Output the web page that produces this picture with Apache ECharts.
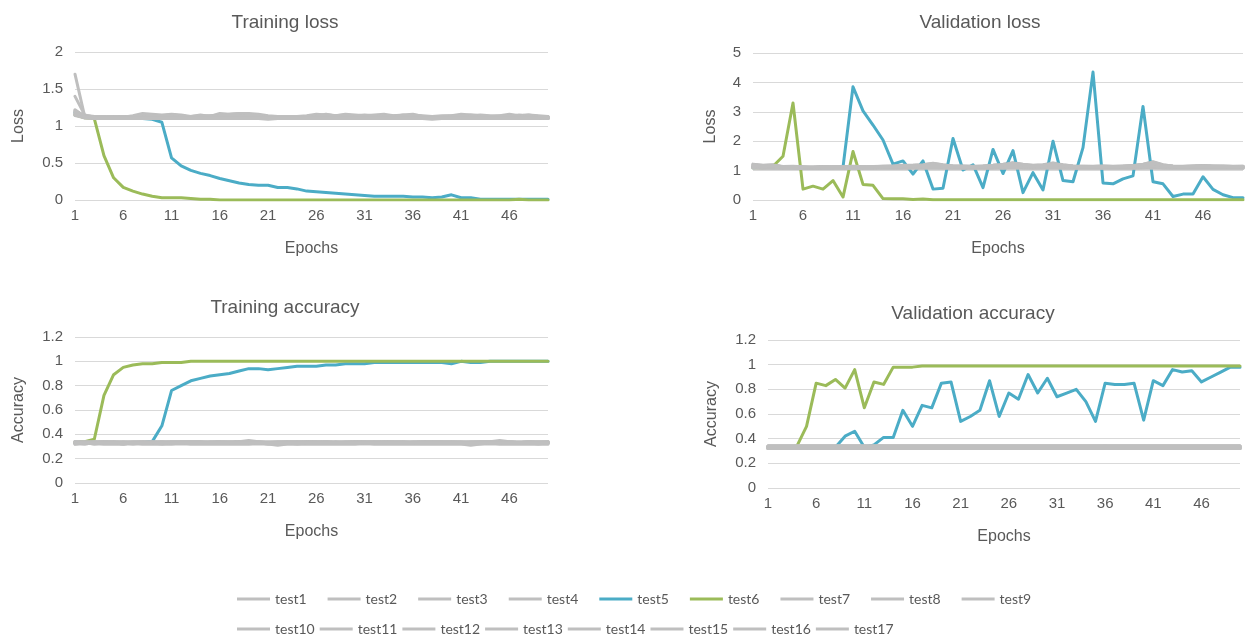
<!DOCTYPE html>
<html>
<head>
<meta charset="utf-8">
<title>Training and validation curves</title>
<script src="https://cdn.jsdelivr.net/npm/echarts@6/dist/echarts.min.js"></script>
<style>
  html, body { margin: 0; padding: 0; background: #ffffff; }
  #chart { width: 1245px; height: 639px; }
</style>
</head>
<body>
<div id="chart"></div>
<script>
// Epoch labels (50 epochs)
const epochs = ['1','2','3','4','5','6','7','8','9','10','11','12','13','14','15','16','17','18','19','20',
  '21','22','23','24','25','26','27','28','29','30','31','32','33','34','35','36','37','38','39','40',
  '41','42','43','44','45','46','47','48','49','50'];

const grayNames = ['test1','test2','test3','test4','test7','test8','test9','test10','test11','test12',
  'test13','test14','test15','test16','test17'];
const legendRow1 = ['test1','test2','test3','test4','test5','test6','test7','test8','test9'];
const legendRow2 = ['test10','test11','test12','test13','test14','test15','test16','test17'];

// ---- Training loss ----
const trainLoss5 = [1.18,1.12,1.11,1.10,1.10,1.10,1.10,1.10,1.09,1.05,0.57,0.46,0.40,0.36,0.33,0.29,0.26,0.23,0.21,0.20,
  0.20,0.17,0.17,0.15,0.12,0.11,0.10,0.09,0.08,0.07,0.06,0.05,0.05,0.05,0.05,0.04,0.04,0.03,0.04,0.07,
  0.03,0.03,0.01,0.01,0.01,0.01,0.01,0.01,0.01,0.01];
const trainLoss6 = [1.15,1.11,1.10,0.60,0.30,0.17,0.12,0.08,0.05,0.03,0.03,0.03,0.02,0.01,0.01,0.00,0.00,0.00,0.00,0.00,
  0.00,0.00,0.00,0.00,0.00,0.00,0.00,0.00,0.00,0.00,0.00,0.00,0.00,0.00,0.00,0.00,0.00,0.00,0.00,0.00,
  0.00,0.00,0.00,0.00,0.00,0.00,0.01,0.00,0.00,0.00];
const trainLossGray = [
  [1.70,1.13,1.11,1.10,1.10,1.10,1.10,1.11,1.10,1.10,1.10,1.10,1.10,1.11,1.10,1.10,1.10,1.10,1.10,1.10,1.10,1.10,1.10,1.10,1.10,1.11,1.10,1.10,1.10,1.10,1.10,1.10,1.10,1.10,1.10,1.10,1.10,1.10,1.10,1.10,1.10,1.10,1.10,1.10,1.10,1.10,1.10,1.10,1.10,1.10],
  [1.40,1.15,1.12,1.11,1.11,1.12,1.12,1.13,1.12,1.12,1.12,1.11,1.12,1.12,1.11,1.12,1.12,1.12,1.11,1.12,1.11,1.11,1.12,1.12,1.11,1.12,1.12,1.11,1.12,1.11,1.12,1.11,1.12,1.12,1.11,1.12,1.11,1.11,1.12,1.11,1.12,1.11,1.12,1.11,1.11,1.12,1.11,1.12,1.11,1.11],
  [1.20,1.14,1.13,1.12,1.12,1.12,1.14,1.17,1.16,1.15,1.16,1.15,1.13,1.15,1.13,1.17,1.16,1.17,1.17,1.16,1.14,1.13,1.13,1.13,1.14,1.16,1.15,1.14,1.16,1.15,1.14,1.15,1.16,1.14,1.15,1.16,1.13,1.13,1.14,1.14,1.16,1.15,1.14,1.13,1.14,1.16,1.14,1.15,1.14,1.13],
  [1.18,1.12,1.11,1.11,1.11,1.11,1.11,1.11,1.11,1.12,1.12,1.12,1.11,1.11,1.12,1.11,1.11,1.11,1.11,1.11,1.11,1.12,1.11,1.11,1.11,1.11,1.11,1.12,1.11,1.11,1.11,1.11,1.11,1.12,1.11,1.11,1.11,1.11,1.11,1.11,1.12,1.11,1.11,1.11,1.11,1.11,1.11,1.12,1.11,1.11],
  [1.16,1.11,1.10,1.10,1.10,1.10,1.10,1.10,1.10,1.10,1.10,1.10,1.10,1.10,1.10,1.10,1.10,1.10,1.10,1.10,1.10,1.10,1.10,1.10,1.10,1.10,1.10,1.10,1.10,1.10,1.10,1.10,1.10,1.10,1.10,1.10,1.10,1.10,1.10,1.10,1.10,1.10,1.10,1.10,1.10,1.10,1.10,1.10,1.10,1.10],
  [1.15,1.12,1.12,1.12,1.13,1.13,1.13,1.14,1.13,1.13,1.14,1.14,1.12,1.13,1.14,1.15,1.15,1.14,1.14,1.15,1.13,1.12,1.12,1.12,1.13,1.14,1.14,1.13,1.14,1.13,1.13,1.13,1.14,1.13,1.13,1.14,1.13,1.13,1.13,1.14,1.14,1.15,1.14,1.13,1.13,1.14,1.13,1.13,1.13,1.12],
  [1.21,1.13,1.11,1.11,1.12,1.11,1.12,1.12,1.12,1.11,1.11,1.12,1.11,1.12,1.11,1.12,1.12,1.11,1.12,1.12,1.11,1.12,1.11,1.12,1.11,1.12,1.12,1.11,1.11,1.12,1.11,1.12,1.11,1.12,1.11,1.12,1.11,1.12,1.12,1.11,1.12,1.11,1.12,1.11,1.12,1.12,1.11,1.12,1.11,1.11],
  [1.17,1.12,1.11,1.10,1.10,1.11,1.10,1.10,1.10,1.10,1.10,1.11,1.10,1.10,1.10,1.10,1.11,1.10,1.10,1.10,1.10,1.10,1.10,1.10,1.10,1.10,1.10,1.11,1.10,1.10,1.10,1.10,1.10,1.10,1.10,1.10,1.11,1.10,1.10,1.10,1.10,1.10,1.10,1.10,1.11,1.10,1.10,1.10,1.10,1.10],
  [1.19,1.14,1.13,1.13,1.12,1.13,1.13,1.14,1.13,1.13,1.13,1.12,1.13,1.14,1.13,1.13,1.14,1.15,1.14,1.13,1.13,1.13,1.12,1.13,1.13,1.13,1.15,1.14,1.13,1.13,1.14,1.13,1.13,1.13,1.15,1.14,1.13,1.13,1.13,1.13,1.13,1.14,1.13,1.13,1.14,1.13,1.15,1.14,1.13,1.13],
  [1.14,1.11,1.11,1.11,1.10,1.11,1.11,1.11,1.10,1.11,1.11,1.11,1.11,1.10,1.11,1.11,1.11,1.11,1.11,1.10,1.11,1.11,1.11,1.11,1.10,1.11,1.11,1.11,1.11,1.11,1.10,1.11,1.11,1.11,1.11,1.10,1.11,1.11,1.11,1.11,1.11,1.10,1.11,1.11,1.11,1.11,1.10,1.11,1.11,1.11],
  [1.22,1.13,1.12,1.12,1.12,1.12,1.12,1.13,1.12,1.12,1.12,1.12,1.12,1.12,1.12,1.13,1.12,1.12,1.12,1.12,1.12,1.12,1.12,1.12,1.12,1.12,1.12,1.12,1.13,1.12,1.12,1.12,1.12,1.12,1.12,1.12,1.12,1.12,1.12,1.12,1.12,1.12,1.12,1.13,1.12,1.12,1.12,1.12,1.12,1.12],
  [1.16,1.12,1.12,1.12,1.13,1.12,1.13,1.15,1.14,1.14,1.15,1.14,1.12,1.13,1.14,1.14,1.16,1.17,1.16,1.14,1.13,1.12,1.13,1.13,1.13,1.14,1.16,1.14,1.15,1.14,1.15,1.14,1.13,1.14,1.14,1.15,1.14,1.13,1.13,1.13,1.14,1.14,1.15,1.14,1.13,1.13,1.14,1.15,1.13,1.12],
  [1.18,1.11,1.10,1.10,1.10,1.10,1.10,1.10,1.10,1.10,1.10,1.10,1.10,1.10,1.10,1.10,1.10,1.10,1.10,1.10,1.09,1.10,1.10,1.10,1.10,1.10,1.10,1.10,1.10,1.10,1.10,1.10,1.10,1.10,1.10,1.10,1.10,1.09,1.10,1.10,1.10,1.10,1.10,1.10,1.10,1.10,1.10,1.10,1.10,1.10],
  [1.15,1.13,1.12,1.12,1.12,1.13,1.12,1.12,1.13,1.14,1.13,1.12,1.12,1.12,1.12,1.13,1.13,1.13,1.14,1.13,1.12,1.12,1.12,1.12,1.13,1.12,1.12,1.12,1.13,1.12,1.12,1.12,1.13,1.13,1.12,1.12,1.12,1.12,1.13,1.12,1.12,1.13,1.12,1.12,1.12,1.12,1.12,1.13,1.12,1.12],
  [1.20,1.12,1.11,1.11,1.11,1.11,1.11,1.11,1.11,1.11,1.11,1.11,1.11,1.11,1.11,1.11,1.11,1.11,1.11,1.11,1.11,1.11,1.11,1.11,1.11,1.11,1.11,1.11,1.11,1.11,1.11,1.11,1.11,1.11,1.11,1.11,1.11,1.11,1.11,1.11,1.11,1.11,1.11,1.11,1.11,1.11,1.11,1.11,1.11,1.10]
];

// ---- Validation loss ----
const valLoss5 = [1.10,1.12,1.10,1.11,1.10,1.10,1.09,1.10,1.10,1.12,3.85,3.03,2.55,2.04,1.22,1.33,0.88,1.33,0.37,0.40,
  2.09,1.02,1.20,0.42,1.72,0.90,1.68,0.25,0.93,0.34,2.00,0.66,0.62,1.78,4.35,0.58,0.55,0.72,0.82,3.18,
  0.62,0.55,0.12,0.20,0.20,0.79,0.36,0.18,0.08,0.08];
const valLoss6 = [1.10,1.10,1.15,1.49,3.30,0.37,0.47,0.37,0.66,0.10,1.65,0.53,0.50,0.05,0.04,0.04,0.02,0.03,0.01,0.01,
  0.01,0.01,0.01,0.01,0.01,0.01,0.01,0.01,0.01,0.01,0.01,0.01,0.01,0.01,0.01,0.01,0.01,0.01,0.01,0.01,
  0.01,0.01,0.01,0.01,0.01,0.01,0.01,0.01,0.01,0.01];
const valLossGray = [
  [1.22,1.18,1.20,1.12,1.14,1.12,1.10,1.13,1.12,1.12,1.14,1.12,1.13,1.15,1.16,1.17,1.18,1.20,1.25,1.20,1.16,1.15,1.14,1.16,1.18,1.22,1.27,1.22,1.18,1.20,1.26,1.20,1.16,1.15,1.14,1.15,1.14,1.15,1.18,1.22,1.30,1.20,1.15,1.14,1.16,1.17,1.16,1.15,1.14,1.15],
  [1.15,1.12,1.13,1.11,1.12,1.11,1.10,1.11,1.11,1.11,1.12,1.11,1.11,1.12,1.13,1.14,1.14,1.15,1.18,1.15,1.13,1.13,1.12,1.13,1.14,1.15,1.18,1.16,1.14,1.15,1.18,1.15,1.13,1.12,1.12,1.13,1.12,1.13,1.14,1.16,1.22,1.16,1.13,1.12,1.13,1.14,1.13,1.13,1.12,1.13],
  [1.10,1.09,1.09,1.08,1.09,1.08,1.08,1.09,1.08,1.09,1.09,1.08,1.09,1.09,1.09,1.09,1.10,1.09,1.10,1.09,1.09,1.09,1.09,1.09,1.09,1.10,1.10,1.09,1.09,1.09,1.10,1.09,1.09,1.09,1.09,1.09,1.09,1.09,1.09,1.10,1.10,1.09,1.09,1.09,1.09,1.09,1.09,1.09,1.09,1.09],
  [1.18,1.14,1.15,1.12,1.13,1.12,1.11,1.12,1.12,1.12,1.13,1.12,1.12,1.13,1.14,1.15,1.15,1.17,1.20,1.17,1.14,1.14,1.13,1.14,1.15,1.17,1.20,1.18,1.15,1.16,1.20,1.16,1.14,1.13,1.13,1.14,1.13,1.14,1.15,1.18,1.24,1.17,1.14,1.13,1.14,1.15,1.14,1.14,1.13,1.14],
  [1.12,1.10,1.11,1.10,1.10,1.10,1.09,1.10,1.10,1.10,1.10,1.10,1.10,1.11,1.11,1.11,1.11,1.12,1.13,1.12,1.11,1.11,1.11,1.11,1.11,1.12,1.13,1.12,1.11,1.12,1.13,1.12,1.11,1.11,1.11,1.11,1.11,1.11,1.11,1.12,1.15,1.12,1.11,1.11,1.11,1.11,1.11,1.11,1.11,1.11],
  [1.20,1.16,1.17,1.13,1.14,1.12,1.11,1.13,1.12,1.13,1.14,1.12,1.13,1.14,1.15,1.16,1.17,1.18,1.22,1.18,1.15,1.15,1.14,1.15,1.17,1.19,1.23,1.20,1.16,1.18,1.23,1.18,1.15,1.14,1.14,1.15,1.14,1.15,1.16,1.20,1.27,1.18,1.15,1.14,1.15,1.16,1.15,1.15,1.14,1.14],
  [1.09,1.08,1.08,1.08,1.08,1.08,1.08,1.08,1.08,1.08,1.08,1.08,1.08,1.08,1.08,1.08,1.08,1.08,1.09,1.08,1.08,1.08,1.08,1.08,1.08,1.08,1.09,1.08,1.08,1.08,1.09,1.08,1.08,1.08,1.08,1.08,1.08,1.08,1.08,1.08,1.09,1.08,1.08,1.08,1.08,1.08,1.08,1.08,1.08,1.08],
  [1.16,1.13,1.14,1.11,1.12,1.11,1.10,1.11,1.11,1.11,1.12,1.11,1.12,1.12,1.13,1.14,1.14,1.16,1.19,1.16,1.13,1.13,1.12,1.13,1.14,1.16,1.19,1.17,1.14,1.15,1.19,1.15,1.13,1.12,1.12,1.13,1.12,1.13,1.14,1.17,1.23,1.16,1.13,1.12,1.13,1.14,1.13,1.13,1.12,1.13],
  [1.11,1.10,1.10,1.09,1.10,1.09,1.09,1.10,1.09,1.10,1.10,1.09,1.10,1.10,1.10,1.10,1.11,1.11,1.12,1.11,1.10,1.10,1.10,1.10,1.10,1.11,1.12,1.11,1.10,1.11,1.12,1.11,1.10,1.10,1.10,1.10,1.10,1.10,1.10,1.11,1.13,1.11,1.10,1.10,1.10,1.10,1.10,1.10,1.10,1.10],
  [1.14,1.12,1.12,1.10,1.11,1.10,1.10,1.11,1.10,1.11,1.11,1.10,1.11,1.11,1.12,1.12,1.12,1.13,1.16,1.13,1.12,1.12,1.11,1.12,1.12,1.14,1.16,1.14,1.12,1.13,1.16,1.13,1.12,1.11,1.11,1.12,1.11,1.12,1.12,1.14,1.19,1.14,1.12,1.11,1.12,1.12,1.12,1.12,1.11,1.12],
  [1.10,1.09,1.09,1.09,1.09,1.09,1.08,1.09,1.09,1.09,1.09,1.09,1.09,1.09,1.09,1.10,1.10,1.10,1.11,1.10,1.09,1.09,1.09,1.09,1.10,1.10,1.11,1.10,1.09,1.10,1.11,1.10,1.09,1.09,1.09,1.09,1.09,1.09,1.09,1.10,1.12,1.10,1.09,1.09,1.09,1.10,1.09,1.09,1.09,1.09],
  [1.13,1.11,1.11,1.10,1.10,1.10,1.09,1.10,1.10,1.10,1.11,1.10,1.10,1.11,1.11,1.12,1.12,1.13,1.15,1.13,1.11,1.11,1.11,1.11,1.12,1.13,1.15,1.13,1.12,1.12,1.15,1.12,1.11,1.11,1.11,1.11,1.11,1.11,1.12,1.13,1.17,1.13,1.11,1.11,1.11,1.12,1.11,1.11,1.11,1.11],
  [1.21,1.17,1.19,1.14,1.15,1.13,1.12,1.14,1.13,1.13,1.15,1.13,1.14,1.15,1.16,1.18,1.18,1.20,1.24,1.19,1.16,1.16,1.15,1.16,1.18,1.21,1.26,1.21,1.17,1.19,1.25,1.19,1.16,1.15,1.15,1.16,1.15,1.16,1.17,1.21,1.29,1.19,1.16,1.15,1.16,1.17,1.16,1.16,1.15,1.15],
  [1.12,1.11,1.11,1.10,1.10,1.10,1.09,1.10,1.10,1.10,1.10,1.10,1.10,1.11,1.11,1.11,1.11,1.12,1.14,1.12,1.11,1.11,1.11,1.11,1.11,1.12,1.14,1.12,1.11,1.12,1.14,1.12,1.11,1.11,1.11,1.11,1.11,1.11,1.11,1.12,1.16,1.12,1.11,1.11,1.11,1.11,1.11,1.11,1.11,1.11],
  [1.17,1.14,1.16,1.12,1.13,1.11,1.11,1.12,1.12,1.12,1.13,1.12,1.12,1.13,1.14,1.15,1.15,1.17,1.21,1.17,1.14,1.14,1.13,1.14,1.15,1.18,1.21,1.18,1.15,1.16,1.21,1.16,1.14,1.13,1.13,1.14,1.13,1.14,1.15,1.18,1.25,1.17,1.14,1.13,1.14,1.15,1.14,1.14,1.13,1.14]
];

// ---- Training accuracy ----
const trainAcc5 = [0.33,0.33,0.33,0.33,0.33,0.33,0.33,0.33,0.34,0.47,0.76,0.80,0.84,0.86,0.88,0.89,0.90,0.92,0.94,0.94,
  0.93,0.94,0.95,0.96,0.96,0.96,0.97,0.97,0.98,0.98,0.98,0.99,0.99,0.99,0.99,0.99,0.99,0.99,0.99,0.98,
  1.00,0.99,0.99,1.00,1.00,1.00,1.00,1.00,1.00,1.00];
const trainAcc6 = [0.33,0.34,0.36,0.72,0.89,0.95,0.97,0.98,0.98,0.99,0.99,0.99,1.00,1.00,1.00,1.00,1.00,1.00,1.00,1.00,
  1.00,1.00,1.00,1.00,1.00,1.00,1.00,1.00,1.00,1.00,1.00,1.00,1.00,1.00,1.00,1.00,1.00,1.00,1.00,1.00,
  1.00,1.00,1.00,1.00,1.00,1.00,1.00,1.00,1.00,1.00];
const trainAccGray = [
  [0.33,0.33,0.33,0.33,0.33,0.33,0.33,0.33,0.33,0.33,0.33,0.33,0.33,0.33,0.33,0.33,0.33,0.33,0.33,0.33,0.33,0.33,0.33,0.33,0.33,0.33,0.33,0.33,0.33,0.33,0.33,0.33,0.33,0.33,0.33,0.33,0.33,0.33,0.33,0.33,0.33,0.33,0.33,0.33,0.33,0.33,0.33,0.33,0.33,0.33],
  [0.34,0.34,0.33,0.34,0.34,0.33,0.34,0.34,0.34,0.33,0.34,0.34,0.34,0.34,0.33,0.34,0.34,0.34,0.34,0.34,0.33,0.34,0.34,0.34,0.34,0.34,0.34,0.33,0.34,0.34,0.34,0.34,0.34,0.34,0.34,0.33,0.34,0.34,0.34,0.34,0.33,0.34,0.34,0.34,0.34,0.34,0.33,0.34,0.34,0.34],
  [0.32,0.33,0.32,0.32,0.32,0.32,0.32,0.32,0.32,0.32,0.32,0.32,0.32,0.32,0.32,0.32,0.32,0.32,0.32,0.32,0.32,0.31,0.32,0.32,0.32,0.32,0.32,0.32,0.32,0.32,0.32,0.32,0.32,0.32,0.32,0.32,0.32,0.32,0.32,0.32,0.32,0.31,0.32,0.32,0.32,0.32,0.32,0.32,0.32,0.32],
  [0.34,0.33,0.34,0.34,0.33,0.34,0.33,0.34,0.33,0.34,0.33,0.34,0.34,0.33,0.34,0.34,0.33,0.34,0.35,0.34,0.33,0.33,0.34,0.33,0.34,0.34,0.33,0.34,0.33,0.34,0.34,0.33,0.34,0.34,0.33,0.34,0.34,0.34,0.33,0.34,0.34,0.33,0.34,0.34,0.35,0.34,0.33,0.34,0.33,0.34],
  [0.33,0.33,0.33,0.33,0.33,0.32,0.33,0.33,0.33,0.33,0.33,0.33,0.33,0.33,0.33,0.33,0.33,0.33,0.33,0.33,0.33,0.33,0.33,0.33,0.33,0.33,0.33,0.33,0.33,0.33,0.33,0.33,0.33,0.33,0.33,0.33,0.33,0.33,0.33,0.33,0.33,0.33,0.33,0.33,0.33,0.33,0.33,0.33,0.33,0.33],
  [0.33,0.34,0.33,0.33,0.34,0.33,0.33,0.33,0.34,0.33,0.33,0.33,0.34,0.34,0.33,0.33,0.33,0.34,0.33,0.33,0.33,0.33,0.33,0.34,0.33,0.33,0.34,0.33,0.33,0.33,0.33,0.34,0.33,0.33,0.34,0.33,0.33,0.34,0.34,0.33,0.33,0.33,0.33,0.34,0.33,0.33,0.33,0.34,0.33,0.33],
  [0.32,0.32,0.33,0.32,0.32,0.32,0.33,0.32,0.32,0.32,0.32,0.33,0.32,0.32,0.32,0.32,0.32,0.32,0.32,0.33,0.32,0.32,0.32,0.32,0.32,0.32,0.32,0.32,0.32,0.32,0.33,0.32,0.32,0.32,0.32,0.32,0.32,0.32,0.32,0.32,0.32,0.32,0.32,0.33,0.32,0.32,0.32,0.32,0.32,0.32],
  [0.33,0.33,0.33,0.33,0.33,0.33,0.33,0.33,0.33,0.33,0.33,0.33,0.33,0.33,0.33,0.33,0.33,0.33,0.33,0.33,0.33,0.33,0.33,0.33,0.33,0.33,0.33,0.33,0.33,0.33,0.33,0.33,0.33,0.33,0.33,0.33,0.33,0.33,0.33,0.33,0.33,0.33,0.33,0.33,0.33,0.33,0.33,0.33,0.33,0.33],
  [0.34,0.34,0.34,0.34,0.34,0.34,0.34,0.34,0.34,0.34,0.34,0.34,0.34,0.34,0.34,0.34,0.34,0.34,0.34,0.34,0.34,0.34,0.34,0.34,0.34,0.34,0.34,0.34,0.34,0.34,0.34,0.34,0.34,0.34,0.34,0.34,0.34,0.34,0.34,0.34,0.34,0.34,0.34,0.34,0.34,0.34,0.34,0.34,0.34,0.34],
  [0.33,0.32,0.33,0.33,0.33,0.33,0.32,0.33,0.33,0.33,0.33,0.33,0.33,0.33,0.33,0.33,0.33,0.33,0.33,0.33,0.33,0.33,0.33,0.32,0.33,0.33,0.33,0.33,0.33,0.33,0.33,0.33,0.33,0.33,0.33,0.33,0.33,0.33,0.33,0.33,0.33,0.33,0.33,0.33,0.33,0.33,0.33,0.33,0.32,0.33],
  [0.33,0.33,0.34,0.33,0.33,0.33,0.33,0.33,0.33,0.34,0.33,0.33,0.33,0.33,0.33,0.34,0.33,0.33,0.33,0.33,0.33,0.33,0.33,0.33,0.34,0.33,0.33,0.33,0.33,0.34,0.33,0.33,0.33,0.33,0.33,0.33,0.34,0.33,0.33,0.33,0.33,0.33,0.33,0.33,0.33,0.34,0.33,0.33,0.33,0.33],
  [0.32,0.33,0.32,0.33,0.33,0.32,0.33,0.33,0.33,0.32,0.33,0.33,0.33,0.33,0.33,0.33,0.33,0.33,0.33,0.33,0.32,0.33,0.33,0.33,0.33,0.33,0.33,0.33,0.33,0.33,0.33,0.33,0.33,0.33,0.33,0.33,0.33,0.33,0.33,0.33,0.33,0.32,0.33,0.33,0.33,0.33,0.33,0.33,0.33,0.33],
  [0.33,0.33,0.33,0.33,0.33,0.33,0.33,0.33,0.33,0.33,0.33,0.33,0.33,0.33,0.33,0.33,0.33,0.33,0.33,0.33,0.33,0.33,0.33,0.33,0.33,0.33,0.33,0.33,0.33,0.33,0.33,0.33,0.33,0.33,0.33,0.33,0.33,0.33,0.33,0.33,0.33,0.33,0.33,0.33,0.33,0.33,0.33,0.33,0.33,0.33],
  [0.34,0.33,0.33,0.34,0.33,0.33,0.33,0.33,0.33,0.33,0.34,0.33,0.33,0.33,0.33,0.33,0.33,0.34,0.33,0.33,0.33,0.33,0.33,0.33,0.33,0.33,0.34,0.33,0.33,0.33,0.33,0.33,0.34,0.33,0.33,0.33,0.33,0.33,0.33,0.33,0.33,0.33,0.33,0.33,0.34,0.33,0.33,0.33,0.33,0.33],
  [0.33,0.33,0.33,0.33,0.33,0.33,0.33,0.33,0.33,0.33,0.33,0.33,0.33,0.33,0.33,0.33,0.33,0.33,0.33,0.33,0.33,0.33,0.33,0.33,0.33,0.33,0.33,0.33,0.33,0.33,0.33,0.33,0.33,0.33,0.33,0.33,0.33,0.33,0.33,0.33,0.33,0.33,0.33,0.33,0.33,0.33,0.33,0.33,0.33,0.33]
];

// ---- Validation accuracy ----
const valAcc5 = [0.33,0.33,0.33,0.33,0.33,0.33,0.33,0.33,0.42,0.46,0.33,0.35,0.41,0.41,0.63,0.50,0.67,0.65,0.85,0.86,
  0.54,0.58,0.63,0.87,0.58,0.77,0.72,0.92,0.77,0.89,0.74,0.77,0.80,0.70,0.54,0.85,0.84,0.84,0.85,0.55,
  0.87,0.83,0.96,0.94,0.95,0.86,0.90,0.94,0.98,0.98];
const valAcc6 = [0.33,0.33,0.33,0.34,0.50,0.85,0.83,0.88,0.81,0.96,0.65,0.86,0.84,0.98,0.98,0.98,0.99,0.99,0.99,0.99,
  0.99,0.99,0.99,0.99,0.99,0.99,0.99,0.99,0.99,0.99,0.99,0.99,0.99,0.99,0.99,0.99,0.99,0.99,0.99,0.99,
  0.99,0.99,0.99,0.99,0.99,0.99,0.99,0.99,0.99,0.99];
const valAccGray = [
  [0.33,0.33,0.33,0.33,0.33,0.33,0.33,0.33,0.33,0.33,0.33,0.33,0.33,0.33,0.33,0.33,0.33,0.33,0.33,0.33,0.33,0.33,0.33,0.33,0.33,0.33,0.33,0.33,0.33,0.33,0.33,0.33,0.33,0.33,0.33,0.33,0.33,0.33,0.33,0.33,0.33,0.33,0.33,0.33,0.33,0.33,0.33,0.33,0.33,0.33],
  [0.32,0.32,0.32,0.32,0.32,0.32,0.32,0.32,0.32,0.32,0.32,0.32,0.32,0.32,0.32,0.32,0.32,0.32,0.32,0.32,0.32,0.32,0.32,0.32,0.32,0.32,0.32,0.32,0.32,0.32,0.32,0.32,0.32,0.32,0.32,0.32,0.32,0.32,0.32,0.32,0.32,0.32,0.32,0.32,0.32,0.32,0.32,0.32,0.32,0.32],
  [0.34,0.34,0.34,0.34,0.34,0.34,0.34,0.34,0.34,0.34,0.34,0.34,0.34,0.34,0.34,0.34,0.34,0.34,0.34,0.34,0.34,0.34,0.34,0.34,0.34,0.34,0.34,0.34,0.34,0.34,0.34,0.34,0.34,0.34,0.34,0.34,0.34,0.34,0.34,0.34,0.34,0.34,0.34,0.34,0.34,0.34,0.34,0.34,0.34,0.34],
  [0.33,0.33,0.33,0.33,0.33,0.33,0.33,0.33,0.33,0.33,0.33,0.33,0.33,0.33,0.33,0.33,0.33,0.33,0.33,0.33,0.33,0.33,0.33,0.33,0.33,0.33,0.33,0.33,0.33,0.33,0.33,0.33,0.33,0.33,0.33,0.34,0.33,0.33,0.33,0.33,0.33,0.33,0.33,0.33,0.33,0.33,0.33,0.33,0.33,0.33],
  [0.33,0.33,0.33,0.33,0.33,0.33,0.33,0.33,0.33,0.33,0.33,0.33,0.33,0.33,0.33,0.33,0.33,0.33,0.33,0.33,0.33,0.33,0.33,0.33,0.33,0.33,0.33,0.33,0.33,0.33,0.33,0.33,0.33,0.33,0.33,0.33,0.33,0.33,0.33,0.33,0.33,0.33,0.33,0.33,0.33,0.33,0.33,0.33,0.33,0.33],
  [0.32,0.32,0.32,0.32,0.32,0.32,0.32,0.32,0.32,0.32,0.32,0.32,0.32,0.32,0.32,0.32,0.32,0.32,0.32,0.32,0.32,0.32,0.32,0.32,0.32,0.32,0.32,0.32,0.32,0.32,0.32,0.32,0.32,0.32,0.32,0.32,0.32,0.32,0.32,0.32,0.32,0.32,0.32,0.32,0.32,0.32,0.32,0.32,0.32,0.32],
  [0.34,0.34,0.34,0.34,0.34,0.34,0.34,0.34,0.34,0.34,0.34,0.34,0.34,0.34,0.34,0.34,0.34,0.34,0.34,0.34,0.34,0.34,0.34,0.34,0.34,0.34,0.34,0.34,0.34,0.34,0.34,0.34,0.34,0.34,0.34,0.34,0.34,0.34,0.34,0.34,0.34,0.34,0.34,0.34,0.34,0.34,0.34,0.34,0.34,0.34],
  [0.33,0.33,0.33,0.33,0.33,0.33,0.33,0.33,0.33,0.33,0.33,0.33,0.33,0.33,0.33,0.33,0.33,0.33,0.33,0.33,0.33,0.33,0.33,0.33,0.33,0.33,0.33,0.33,0.33,0.33,0.33,0.33,0.33,0.33,0.33,0.33,0.33,0.33,0.33,0.33,0.33,0.33,0.33,0.33,0.33,0.33,0.33,0.33,0.33,0.33],
  [0.33,0.33,0.33,0.33,0.33,0.33,0.33,0.33,0.33,0.33,0.33,0.33,0.33,0.33,0.33,0.33,0.33,0.33,0.33,0.33,0.33,0.33,0.33,0.33,0.33,0.33,0.33,0.33,0.33,0.33,0.33,0.33,0.33,0.33,0.33,0.33,0.33,0.33,0.33,0.33,0.33,0.33,0.33,0.33,0.33,0.33,0.33,0.33,0.33,0.33],
  [0.32,0.32,0.32,0.32,0.32,0.32,0.32,0.32,0.32,0.32,0.32,0.32,0.32,0.32,0.32,0.32,0.32,0.32,0.32,0.32,0.32,0.32,0.32,0.32,0.32,0.32,0.32,0.32,0.32,0.32,0.32,0.32,0.32,0.32,0.32,0.32,0.32,0.32,0.32,0.32,0.32,0.32,0.32,0.32,0.32,0.32,0.32,0.32,0.32,0.32],
  [0.34,0.34,0.34,0.34,0.34,0.34,0.34,0.34,0.34,0.34,0.34,0.34,0.34,0.34,0.34,0.34,0.34,0.34,0.34,0.34,0.34,0.34,0.34,0.34,0.34,0.34,0.34,0.34,0.34,0.34,0.34,0.34,0.34,0.34,0.34,0.34,0.34,0.34,0.34,0.34,0.34,0.34,0.34,0.34,0.34,0.34,0.34,0.34,0.34,0.34],
  [0.33,0.33,0.33,0.33,0.33,0.33,0.33,0.33,0.33,0.33,0.33,0.33,0.33,0.33,0.33,0.33,0.33,0.33,0.33,0.33,0.33,0.33,0.33,0.33,0.33,0.33,0.33,0.33,0.33,0.33,0.33,0.33,0.33,0.33,0.33,0.33,0.33,0.33,0.33,0.33,0.33,0.33,0.33,0.33,0.33,0.33,0.33,0.33,0.33,0.33],
  [0.33,0.33,0.33,0.33,0.33,0.33,0.33,0.33,0.33,0.33,0.33,0.33,0.33,0.33,0.33,0.33,0.33,0.33,0.33,0.33,0.33,0.33,0.33,0.33,0.33,0.33,0.33,0.33,0.33,0.33,0.33,0.33,0.33,0.33,0.33,0.33,0.33,0.33,0.33,0.33,0.33,0.33,0.33,0.33,0.33,0.33,0.33,0.33,0.33,0.33],
  [0.32,0.32,0.32,0.32,0.32,0.32,0.32,0.32,0.32,0.32,0.32,0.32,0.32,0.32,0.32,0.32,0.32,0.32,0.32,0.32,0.32,0.32,0.32,0.32,0.32,0.32,0.32,0.32,0.32,0.32,0.32,0.32,0.32,0.32,0.32,0.32,0.32,0.32,0.32,0.32,0.32,0.32,0.32,0.32,0.32,0.32,0.32,0.32,0.32,0.32],
  [0.34,0.34,0.34,0.34,0.34,0.34,0.34,0.34,0.34,0.34,0.34,0.34,0.34,0.34,0.34,0.34,0.34,0.34,0.34,0.34,0.34,0.34,0.34,0.34,0.34,0.34,0.34,0.34,0.34,0.34,0.34,0.34,0.34,0.34,0.34,0.34,0.34,0.34,0.34,0.34,0.34,0.34,0.34,0.34,0.34,0.34,0.34,0.34,0.34,0.34]
];

// ---- Styling ----
const GRAY = '#BFBFBF';
const BLUE = '#4BACC6';
const GREEN = '#9BBB59';
const TEXT = '#595959';
const GRID_LINE = '#D9D9D9';
const FONT = "'Liberation Sans', Arial, sans-serif";

// Panel layout: title, axis range and plot rectangle for each of the four charts
const panels = [
  { title: 'Training loss',       yName: 'Loss',     max: 2,   interval: 0.5, grid: { left: 75,  top: 52,  width: 473, height: 148 }, titleX: 280, titleY: 8,   xNameGap: 41, yNameGap: 48, test5: trainLoss5, test6: trainLoss6, gray: trainLossGray },
  { title: 'Validation loss',     yName: 'Loss',     max: 5,   interval: 1,   grid: { left: 753, top: 53,  width: 490, height: 147 }, titleX: 975, titleY: 8,   xNameGap: 41, yNameGap: 34, test5: valLoss5,   test6: valLoss6,   gray: valLossGray },
  { title: 'Training accuracy',   yName: 'Accuracy', max: 1.2, interval: 0.2, grid: { left: 75,  top: 337, width: 473, height: 146 }, titleX: 280, titleY: 293, xNameGap: 41, yNameGap: 48, test5: trainAcc5,  test6: trainAcc6,  gray: trainAccGray },
  { title: 'Validation accuracy', yName: 'Accuracy', max: 1.2, interval: 0.2, grid: { left: 768, top: 340, width: 472, height: 148 }, titleX: 968, titleY: 299, xNameGap: 41, yNameGap: 48, test5: valAcc5,    test6: valAcc6,    gray: valAccGray }
];

const titles = [], grids = [], xAxes = [], yAxes = [], series = [];

panels.forEach((p, i) => {
  titles.push({
    text: p.title, left: p.titleX, top: p.titleY, textAlign: 'center',
    textStyle: { fontFamily: FONT, fontSize: 19, fontWeight: 'normal', color: TEXT }
  });
  grids.push(Object.assign({ containLabel: false }, p.grid));
  xAxes.push({
    gridIndex: i, type: 'category', data: epochs, boundaryGap: false,
    axisLine: { show: false }, axisTick: { show: false },
    axisLabel: { interval: 4, color: TEXT, fontFamily: FONT, fontSize: 15, margin: 8 },
    name: 'Epochs', nameLocation: 'middle', nameGap: p.xNameGap,
    nameTextStyle: { color: TEXT, fontFamily: FONT, fontSize: 16 }
  });
  yAxes.push({
    gridIndex: i, type: 'value', min: 0, max: p.max, interval: p.interval,
    axisLine: { show: false }, axisTick: { show: false },
    splitLine: { lineStyle: { color: GRID_LINE, width: 1 } },
    axisLabel: { color: TEXT, fontFamily: FONT, fontSize: 15, margin: 12 },
    name: p.yName, nameLocation: 'middle', nameGap: p.yNameGap, nameRotate: 90,
    nameTextStyle: { color: TEXT, fontFamily: FONT, fontSize: 16 }
  });

  // series order follows the legend: test1..test4, test5, test6, test7..test17
  const ordered = [];
  for (let g = 0; g < 4; g++) ordered.push({ name: grayNames[g], data: p.gray[g], color: GRAY });
  ordered.push({ name: 'test5', data: p.test5, color: BLUE });
  ordered.push({ name: 'test6', data: p.test6, color: GREEN });
  for (let g = 4; g < grayNames.length; g++) ordered.push({ name: grayNames[g], data: p.gray[g], color: GRAY });

  ordered.forEach(s => {
    series.push({
      name: s.name, type: 'line', xAxisIndex: i, yAxisIndex: i,
      data: s.data, symbol: 'none', smooth: false,
      color: s.color,
      lineStyle: { color: s.color, width: 3, cap: 'round', join: 'round' },
      emphasis: { disabled: true }
    });
  });
});

const legendText = { color: TEXT, fontFamily: "Lato, 'Open Sans', sans-serif", fontSize: 14 };

const chart = echarts.init(document.getElementById('chart'), null, { renderer: 'canvas' });
chart.setOption({
  animation: false,
  backgroundColor: '#ffffff',
  title: titles,
  grid: grids,
  xAxis: xAxes,
  yAxis: yAxes,
  legend: [
    { data: legendRow1, left: 232, top: 587, icon: 'rect', itemWidth: 33, itemHeight: 3, itemGap: 21, textStyle: legendText, selectedMode: false },
    { data: legendRow2, left: 232, top: 617, icon: 'rect', itemWidth: 33, itemHeight: 3, itemGap: 5,  textStyle: legendText, selectedMode: false }
  ],
  series: series
});
</script>
</body>
</html>
